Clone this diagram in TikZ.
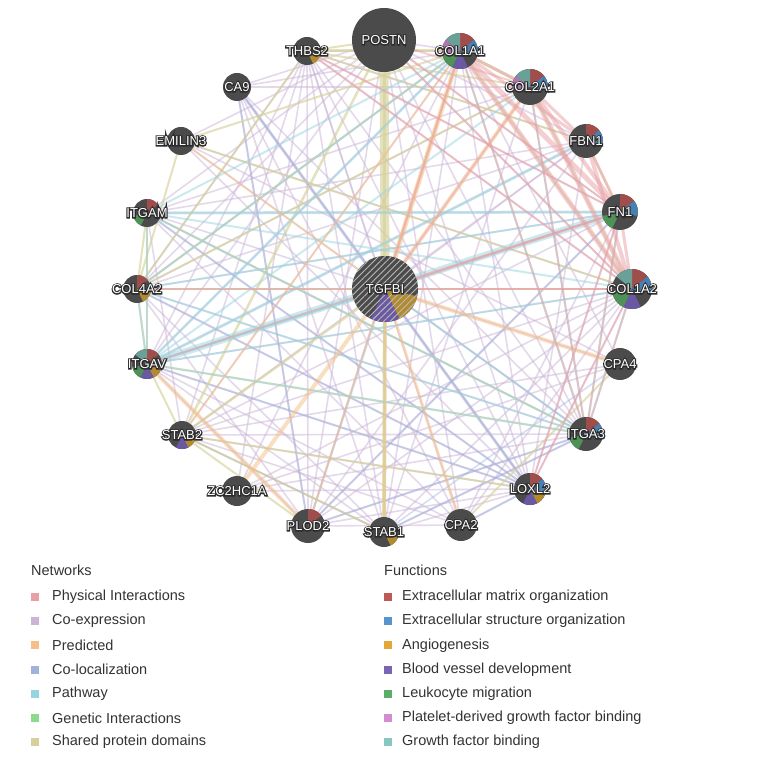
\documentclass[tikz,border=0pt]{standalone}
\usepackage{fontspec}
\setmainfont{Liberation Sans}
\usetikzlibrary{patterns.meta}
\pgfdeclarelayer{bg}
\pgfdeclarelayer{edges}
\pgfdeclarelayer{discs}
\pgfdeclarelayer{halo}
\pgfsetlayers{bg,edges,discs,halo,main}

\definecolor{ngray}{RGB}{75,75,75}
% network colours
\definecolor{phc}{RGB}{233,160,164}
\definecolor{cxc}{RGB}{203,180,214}
\definecolor{prc}{RGB}{245,192,135}
\definecolor{clc}{RGB}{160,178,220}
\definecolor{pwc}{RGB}{152,212,222}
\definecolor{gic}{RGB}{138,219,140}
\definecolor{sdc}{RGB}{214,209,155}
% function colours (legend)
\definecolor{l0}{RGB}{191,88,86}
\definecolor{l1}{RGB}{88,148,203}
\definecolor{l2}{RGB}{228,166,56}
\definecolor{l3}{RGB}{122,101,181}
\definecolor{l4}{RGB}{92,173,104}
\definecolor{l5}{RGB}{210,140,210}
\definecolor{l6}{RGB}{134,200,191}
% function colours (pies)
\definecolor{f0}{RGB}{160,78,76}
\definecolor{f1}{RGB}{72,128,178}
\definecolor{f2}{RGB}{178,138,48}
\definecolor{f3}{RGB}{106,88,162}
\definecolor{f4}{RGB}{78,146,88}
\definecolor{f5}{RGB}{176,116,176}
\definecolor{f6}{RGB}{105,160,152}

\newcommand{\gdisc}[2]{\fill[ngray] (#1.center) circle[radius=#2];}
\newcommand{\gslices}[3]{%
  \foreach \k in {#3} {%
    \fill[f\k] (#1.center) -- ++({90-\k*360/7}:#2) arc[start angle={90-\k*360/7}, end angle={90-(\k+1)*360/7}, radius=#2] -- cycle;}}
% gene node: white label on top, stroked dark outline copy just behind it
\newcommand{\gnode}[3]{%
  \node[gn] (#1) at (#2) {#3};
  \begin{pgfonlayer}{halo}
  \node[gn] (#1o) at (#2) {\special{pdf:literal direct 1 Tr 2.3 w 0.17 0.17 0.17 RG}#3\special{pdf:literal direct 0 Tr}};
  \end{pgfonlayer}}

\tikzset{
  gn/.style={inner sep=0pt, text=white, font=\fontsize{13}{14}\selectfont},
  edgebase/.style={line cap=round, draw opacity=0.5},
  cx/.style={edgebase, draw=cxc, line width=1.6pt},
  pr/.style={edgebase, draw=prc},
  pw/.style={edgebase, draw=pwc},
  ph/.style={edgebase, draw=phc},
  cl/.style={edgebase, draw=clc, draw opacity=0.45},
  sd/.style={edgebase, draw=sdc, draw opacity=0.65},
  legtxt/.style={anchor=west, inner sep=0pt, font=\fontsize{14.5}{16}\selectfont, text=black!80},
  legsq/.style={minimum size=8pt, inner sep=0pt, draw=none}
}

\begin{document}
\begin{tikzpicture}[x=1pt,y=1pt]
\useasboundingbox (0,0) rectangle (767,756);
\begin{pgfonlayer}{bg}
\fill[white] (0,0) rectangle (767,756);
\end{pgfonlayer}

% ---------- nodes (labels) ----------
\gnode{P}{384,716}{POSTN}
\gnode{TH}{307,705}{THBS2}
\gnode{C1}{460,705}{COL1A1}
\gnode{C2}{530,669}{COL2A1}
\gnode{CA9}{237,669}{CA9}
\gnode{EM}{181,615}{EMILIN3}
\gnode{FB}{586,615}{FBN1}
\gnode{IM}{147,543}{ITGAM}
\gnode{FN1}{620,544}{FN1}
\gnode{C4}{137,467}{COL4A2}
\gnode{TG}{385,467}{TGFBI}
\gnode{C12}{632,467}{COL1A2}
\gnode{IV}{147,392}{ITGAV}
\gnode{CPA4}{620,392}{CPA4}
\gnode{S2}{182,321}{STAB2}
\gnode{I3}{586,322}{ITGA3}
\gnode{ZC}{237,265}{ZC2HC1A}
\gnode{LX}{530,267}{LOXL2}
\gnode{PL}{308,230}{PLOD2}
\gnode{CPA2}{461,231}{CPA2}
\gnode{S1}{384,224}{STAB1}

% ---------- discs and pies ----------
\begin{pgfonlayer}{discs}
\gdisc{P}{32}
\gdisc{TH}{14}   \gslices{TH}{14}{2}
\gdisc{C1}{18}   \gslices{C1}{18}{0,1,3,4,5,6}
\gdisc{C2}{18}   \gslices{C2}{18}{0,1,5,6}
\gdisc{CA9}{14}
\gdisc{EM}{14}
\gdisc{FB}{17}   \gslices{FB}{17}{0,1}
\gdisc{IM}{14}   \gslices{IM}{14}{0,4}
\gdisc{FN1}{18}  \gslices{FN1}{18}{0,1,4}
\gdisc{C4}{14}   \gslices{C4}{14}{0,2}
\gdisc{TG}{33}   \gslices{TG}{33}{2,3}
\fill[pattern={Lines[angle=45,distance=4.5pt,line width=0.9pt]}, pattern color=gray!55] (TG.center) circle[radius=33];
\gdisc{C12}{20}  \gslices{C12}{20}{0,1,3,4,6}
\gdisc{IV}{15}   \gslices{IV}{15}{0,2,3,4,6}
\gdisc{CPA4}{16}
\gdisc{S2}{14}   \gslices{S2}{14}{2,3}
\gdisc{I3}{17}   \gslices{I3}{17}{0,1,4}
\gdisc{ZC}{15}
\gdisc{LX}{16}   \gslices{LX}{16}{0,1,2,3}
\gdisc{PL}{17}   \gslices{PL}{17}{0}
\gdisc{CPA2}{16}
\gdisc{S1}{15}   \gslices{S1}{15}{2}
\end{pgfonlayer}

% ---------- edges ----------
\begin{pgfonlayer}{edges}
% co-expression
\foreach \a/\b in {TH/C1,TH/C12,TH/FN1,TH/FB,TH/LX,TH/PL,TH/IV,TH/C4,TH/S2,TH/TG,TH/S1,TH/CPA2,TH/I3,TH/ZC,
  CA9/LX,CA9/PL,CA9/I3,CA9/TG,CA9/C1,CA9/S1,CA9/CPA2,
  P/C1,P/C12,P/FN1,P/FB,P/C4,P/LX,P/PL,P/IV,P/IM,P/CA9,P/EM,P/CPA2,P/I3,
  C1/PL,C1/LX,C1/S2,C1/IV,C1/C4,C1/ZC,C1/CPA4,C1/S1,
  C2/IM,C2/C4,C2/S1,C2/CA9,
  FB/C4,FB/S2,FB/PL,FB/IV,FB/LX,FB/IM,
  FN1/PL,FN1/LX,FN1/C4,FN1/S2,FN1/IM,FN1/CPA2,
  C12/PL,C12/LX,C12/IV,C12/S1,C12/S2,C12/ZC,C12/CPA2,
  TG/LX,TG/C4,TG/IV,TG/I3,TG/FN1,TG/FB,
  IV/LX,IV/PL,IV/CPA2,IV/S1,
  IM/S2,IM/LX,IM/I3,IM/CPA2,
  C4/LX,C4/PL,C4/I3,C4/S1,
  S2/LX,S2/S1,S2/CPA2,S2/I3,
  I3/PL,I3/S1,I3/ZC,
  LX/PL,LX/S1,LX/ZC,LX/CPA2,
  PL/CPA2,EM/CPA4,EM/LX,EM/I3,ZC/CPA4,EM/C12,CPA4/IM,CPA4/S2}
  \draw[cx] (\a.center) -- (\b.center);
% co-localization
\foreach \a/\b/\w in {CA9/LX/3,TG/PL/2,S1/I3/2,LX/C4/2,LX/IV/2,LX/IM/2,CPA2/LX/2,PL/I3/2,CA9/PL/2,S2/S1/1.5,PL/FN1/2,S1/CPA4/1.5}
  \draw[cl, line width=\w pt] (\a.center) -- (\b.center);
% shared protein domains
\foreach \a/\b/\w in {P/TG/9,S1/TG/4,P/S1/3,P/S2/2.5,TG/S2/2.5,S1/S2/2,IV/IM/2,IV/I3/2,IM/I3/2,CPA2/CPA4/2,
  C1/C2/3,C1/C12/2,C2/C12/2,C1/C4/2,C2/C4/2,C12/C4/2,TH/C1/3,TH/C2/2,TH/C4/2,EM/C12/2,EM/C4/2,EM/C1/2,
  FB/FN1/2,TH/FB/2,TH/P/2,IM/C4/2,C4/IV/2,IV/S2/2,S2/PL/2,S2/LX/2}
  \draw[sd, line width=\w pt] (\a.center) -- (\b.center);
% pathway
\foreach \a/\b/\w in {IV/FN1/7,IV/FB/3,IV/C1/2.5,IV/C12/2,IV/I3/2,IM/FN1/3,IM/C1/2,IM/C12/2,IM/IV/2,
  I3/C1/2,I3/C12/2,I3/C2/2,I3/FN1/2,C4/I3/2,C4/IV/2,IV/C2/2,C4/FN1/2,IM/I3/2,C4/C1/2,TG/IV/2.5,TG/I3/2}
  \draw[pw, line width=\w pt] (\a.center) -- (\b.center);
% predicted
\foreach \a/\b/\w in {TG/C1/5,TG/C2/4,ZC/TG/4,TG/CPA4/4,TG/CPA2/3,IV/PL/4,S1/TG/2,S2/C1/2,EM/TG/2,PL/C1/2}
  \draw[pr, line width=\w pt] (\a.center) -- (\b.center);
% physical interactions
\foreach \a/\b/\w in {C1/FN1/5,C1/C12/5,C2/C12/5,C2/FN1/4,FB/C12/4,FB/FN1/3,C1/FB/3,C1/C2/3,C2/FB/3,FN1/C12/3,
  FN1/I3/2,FN1/IV/2,C4/C12/2.5,TG/C12/2,C1/I3/2,C12/I3/2,C12/LX/2,C2/I3/2,FN1/TG/2.5,C1/TG/2,LX/FN1/2,
  TH/C12/2,TH/FN1/2,P/FN1/2,P/C12/2,P/C2/2,TG/C2/2}
  \draw[ph, line width=\w pt] (\a.center) -- (\b.center);
\end{pgfonlayer}

% ---------- legend ----------
\node[legtxt] (nh) at (31,186) {Networks};
\node[legtxt] (fh) at (384,186) {Functions};
\foreach \i/\c/\t in {1/phc/Physical Interactions,2/cxc/Co-expression,3/prc/Predicted,4/clc/Co-localization,5/pwc/Pathway,6/gic/Genetic Interactions,7/sdc/Shared protein domains} {
  \node[legsq, fill=\c] (ns\i) at (35,{159-(\i-1)*24.2}) {};
  \node[legtxt] (nt\i) at (52,{159-(\i-1)*24.2}) {\t};
}
\foreach \i/\c/\t in {1/l0/Extracellular matrix organization,2/l1/Extracellular structure organization,3/l2/Angiogenesis,4/l3/Blood vessel development,5/l4/Leukocyte migration,6/l5/Platelet-derived growth factor binding,7/l6/Growth factor binding} {
  \node[legsq, fill=\c] (fs\i) at (388,{159-(\i-1)*24.2}) {};
  \node[legtxt] (ft\i) at (402,{159-(\i-1)*24.2}) {\t};
}
\end{tikzpicture}
\end{document}
